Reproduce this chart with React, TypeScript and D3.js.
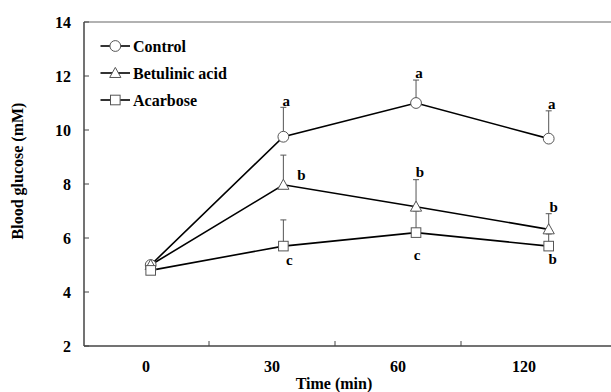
import React from "react";
import * as d3 from "d3";

const categories = ["0", "30", "60", "120"];
const yTicks = [2, 4, 6, 8, 10, 12, 14];
const seriesNames = ["Control", "Betulinic acid", "Acarbose"];
const controlMean = [5.0, 9.75, 11.0, 9.68];
const controlErr = [0.12, 1.09, 0.85, 1.03];
const betulinicMean = [5.0, 7.97, 7.16, 6.32];
const betulinicErr = [0.12, 1.1, 1.0, 0.58];
const acarboseMean = [4.8, 5.7, 6.2, 5.7];
const acarboseErr = [0.12, 0.97, 0.8, 0.45];
const controlLetters = ["", "a", "a", "a"];
const betulinicLetters = ["", "b", "b", "b"];
const acarboseLetters = ["", "c", "c", "b"];

const W = 611;
const H = 392;
const left = 84;
const top = 22;
const bottom = 346;

// label placement (layout, not data): [dx, dy] relative to anchor
const letterPlace: Record<string, { anchor: "bar" | "point"; off: [number, number][] }> = {
  Control: { anchor: "bar", off: [[0, 0], [3, -1], [3, -2], [3, -2]] },
  "Betulinic acid": { anchor: "bar", off: [[0, 0], [18, 25], [4, -3], [5, -2]] },
  Acarbose: { anchor: "point", off: [[0, 0], [6, 18.5], [1, 27], [4, 17.5]] },
};

const FONT = "Liberation Serif, Tinos, Times New Roman, DejaVu Serif, serif";

export default function App() {
  const y = d3.scaleLinear().domain([2, 14]).range([bottom, top]);
  const xBand = d3.scaleBand().domain(categories).range([83, 587]);
  const xPt = d3.scalePoint().domain(categories).range([150.7, 548.7]);

  const series = [
    { name: seriesNames[0], mean: controlMean, err: controlErr, letters: controlLetters, shape: "circle" },
    { name: seriesNames[1], mean: betulinicMean, err: betulinicErr, letters: betulinicLetters, shape: "triangle" },
    { name: seriesNames[2], mean: acarboseMean, err: acarboseErr, letters: acarboseLetters, shape: "square" },
  ];

  const line = d3
    .line<number>()
    .x((_, i) => xPt(categories[i]) as number)
    .y((d) => y(d));

  const markerStroke = "#555";
  const ts = { fontFamily: FONT, fontWeight: 700 } as React.CSSProperties;

  const marker = (shape: string, cx: number, cy: number, key: string) => {
    if (shape === "circle")
      return <circle key={key} cx={cx} cy={cy} r={5.4} fill="#fff" stroke={markerStroke} strokeWidth={1} />;
    if (shape === "triangle") {
      const s = 5.6;
      const p = `${cx},${cy - s} ${cx + s},${cy + s * 0.8} ${cx - s},${cy + s * 0.8}`;
      return <polygon key={key} points={p} fill="#fff" stroke={markerStroke} strokeWidth={1} />;
    }
    return <rect key={key} x={cx - 4.8} y={cy - 4.8} width={9.6} height={9.6} fill="#fff" stroke={markerStroke} strokeWidth={1} />;
  };

  return (
    <svg width={W} height={H} style={{ position: "absolute", left: 0, top: 0, background: "#fff" }}>
      {/* frame top */}
      <line x1={left} x2={W} y1={top} y2={top} stroke="#999" strokeWidth={1.5} />
      {/* y axis */}
      <line x1={left} x2={left} y1={top} y2={bottom} stroke="#444" strokeWidth={1.5} />
      {yTicks.map((t) => (
        <g key={t}>
          <line x1={left} x2={left + 5} y1={y(t)} y2={y(t)} stroke="#444" strokeWidth={1} />
          <text x={71} y={y(t)} dy="0.35em" textAnchor="end" fontSize={16} style={ts}>
            {t}
          </text>
        </g>
      ))}
      {/* x axis */}
      <line x1={left} x2={W} y1={bottom} y2={bottom} stroke="#444" strokeWidth={1.5} />
      {categories.slice(1).map((c) => (
        <line key={c} x1={xBand(c)} x2={xBand(c)} y1={bottom} y2={bottom - 5} stroke="#444" strokeWidth={1} />
      ))}
      {categories.map((c) => (
        <text key={c} x={(xBand(c) as number) + xBand.bandwidth() / 2} y={372} textAnchor="middle" fontSize={16} style={ts}>
          {c}
        </text>
      ))}
      <text x={334} y={389} textAnchor="middle" fontSize={16} style={ts}>
        Time (min)
      </text>
      <text transform="translate(23,171) rotate(-90)" textAnchor="middle" fontSize={16} style={ts}>
        Blood glucose (mM)
      </text>

      {/* error bars */}
      {series.map((s) =>
        s.mean.map((m, i) => {
          const cx = xPt(categories[i]) as number;
          const yt = y(m + s.err[i]);
          return (
            <g key={s.name + "e" + i}>
              <line x1={cx} x2={cx} y1={y(m)} y2={yt} stroke="#555" strokeWidth={1} />
              <line x1={cx - 3} x2={cx + 3} y1={yt} y2={yt} stroke="#555" strokeWidth={1} />
            </g>
          );
        })
      )}
      {/* lines */}
      {series.map((s) => (
        <path key={s.name + "l"} d={line(s.mean) as string} fill="none" stroke="#000" strokeWidth={1.6} />
      ))}
      {/* markers */}
      {series.map((s) => s.mean.map((m, i) => marker(s.shape, xPt(categories[i]) as number, y(m), s.name + "m" + i)))}
      {/* letters */}
      {series.map((s) =>
        s.letters.map((l, i) => {
          if (!l) return null;
          const place = letterPlace[s.name];
          const cx = xPt(categories[i]) as number;
          const ay = place.anchor === "bar" ? y(s.mean[i] + s.err[i]) : y(s.mean[i]);
          const [dx, dy] = place.off[i];
          return (
            <text key={s.name + "t" + i} x={cx + dx} y={ay + dy} textAnchor="middle" fontSize={15} style={ts}>
              {l}
            </text>
          );
        })
      )}

      {/* legend */}
      {series.map((s, i) => {
        const ly = 46 + i * 27;
        return (
          <g key={s.name + "lg"}>
            <line x1={100.5} x2={130} y1={ly} y2={ly} stroke="#000" strokeWidth={1.6} />
            {marker(s.shape, 115.3, ly, s.name + "lgm")}
            <text x={133} y={ly} dy="0.35em" fontSize={16} style={ts}>
              {s.name}
            </text>
          </g>
        );
      })}
    </svg>
  );
}
